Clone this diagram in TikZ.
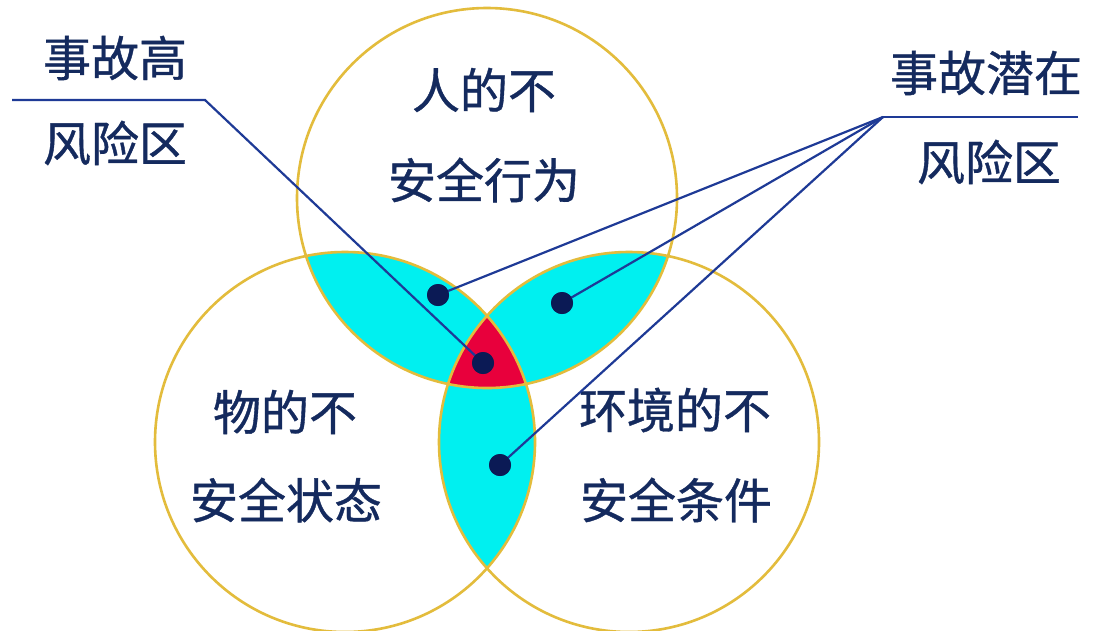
\documentclass[tikz,border=0pt]{standalone}
\usepackage{fontspec}
\newfontfamily\cjk[FakeBold=0.8]{Noto Sans CJK SC}
\definecolor{ringc}{HTML}{E3BC3C}
\definecolor{cyanc}{HTML}{00F0F0}
\definecolor{redc}{HTML}{E8003C}
\definecolor{txtc}{HTML}{142A5E}
\definecolor{leadc}{HTML}{1E3A96}
\definecolor{dotc}{HTML}{0B1A55}
\begin{document}
\begin{tikzpicture}[x=1pt,y=-1pt,
  ring/.style={draw=ringc, line width=2.6pt},
  lbl/.style={text=txtc, font=\cjk\fontsize{48}{52}\selectfont, inner sep=0pt},
  dotn/.style={circle, fill=dotc, minimum size=22pt, inner sep=0pt},
  lead/.style={draw=leadc, line width=2.2pt}]
\useasboundingbox (0,0) rectangle (1094,630);
\fill[white] (0,0) rectangle (1094,630);
\coordinate (T) at (487,198);
\coordinate (L) at (345,442);
\coordinate (R) at (629,442);
% pairwise intersections
\begin{scope}
  \clip (T) circle (190pt);
  \fill[cyanc] (L) circle (190pt);
  \fill[cyanc] (R) circle (190pt);
\end{scope}
\begin{scope}
  \clip (L) circle (190pt);
  \fill[cyanc] (R) circle (190pt);
\end{scope}
\begin{scope}
  \clip (T) circle (190pt);
  \clip (L) circle (190pt);
  \fill[redc] (R) circle (190pt);
\end{scope}
% circles
\draw[ring] (T) circle (190pt);
\draw[ring] (L) circle (190pt);
\draw[ring] (R) circle (190pt);
% texts
\node[lbl] (t1) at (484,90) {人的不};
\node[lbl] (t2) at (484,180) {安全行为};
\node[lbl] (l1) at (285,412) {物的不};
\node[lbl] (l2) at (286,500) {安全状态};
\node[lbl] (r1) at (675,410) {环境的不};
\node[lbl] (r2) at (676,500) {安全条件};
\node[lbl] (h1) at (115,58) {事故高};
\node[lbl] (h2) at (115,143) {风险区};
\node[lbl] (p1) at (986,73) {事故潜在};
\node[lbl] (p2) at (989,162) {风险区};
% dots
\node[dotn] (dred) at (483,363) {};
\node[dotn] (dtl) at (438,295) {};
\node[dotn] (dtr) at (562,303) {};
\node[dotn] (dbot) at (500,465) {};
% leaders
\coordinate (hl) at (12,100);
\coordinate (hc) at (205,100);
\coordinate (pr) at (1078,117);
\coordinate (pc) at (883,117);
\draw[lead] (hl) -- (hc) -- (dred.center);
\draw[lead] (pr) -- (pc);
\draw[lead] (pc) -- (dtl.center);
\draw[lead] (pc) -- (dtr.center);
\draw[lead] (pc) -- (dbot.center);
% redraw dots on top
\node[dotn] at (dred) {};
\node[dotn] at (dtl) {};
\node[dotn] at (dtr) {};
\node[dotn] at (dbot) {};
\end{tikzpicture}
\end{document}
